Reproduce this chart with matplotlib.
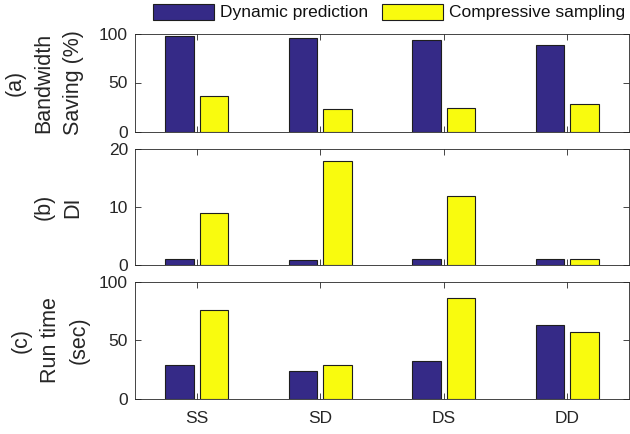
import matplotlib
matplotlib.use("Agg")
import matplotlib.pyplot as plt
import numpy as np

plt.rcParams['font.family'] = ['Liberation Sans', 'DejaVu Sans']

categories = ["SS", "SD", "DS", "DD"]
series_names = ["Dynamic prediction", "Compressive sampling"]

bandwidth_dynamic = [97, 95, 93.5, 88.5]
bandwidth_compressive = [36, 23, 24, 28]

di_dynamic = [1.0, 0.9, 1.05, 1.05]
di_compressive = [9, 18, 12, 1.15]

runtime_dynamic = [29, 24, 32, 63]
runtime_compressive = [76, 29, 86, 57]

panel_labels = ["(a)\nBandwidth\nSaving (%)", "(b)\nDI", "(c)\nRun time\n(sec)"]
panel_ylims = [(0, 100), (0, 20), (0, 100)]
panel_yticks = [[0, 50, 100], [0, 10, 20], [0, 50, 100]]

colors = ["#352a87", "#f9fb0e"]
edge = "#1e1e1e"
axis_color = "#262626"

W, H = 630, 434
fig = plt.figure(figsize=(W / 100, H / 100), dpi=100)

# axes rectangles in pixels: (left, top, right, bottom)
rects = [(135, 33.5, 629, 131.5), (135, 149, 629, 265.3), (135, 281.7, 629, 398.7)]
label_x = [-0.104, -0.104, -0.092]

data = [(bandwidth_dynamic, bandwidth_compressive),
        (di_dynamic, di_compressive),
        (runtime_dynamic, runtime_compressive)]

x = np.arange(1, len(categories) + 1)
offset = 0.141
width = 0.23

for i, (l, t, r, b) in enumerate(rects):
    ax = fig.add_axes([l / W, 1 - b / H, (r - l) / W, (b - t) / H])
    dyn, comp = data[i]
    h1 = ax.bar(x - offset, dyn, width, color=colors[0], edgecolor=edge, linewidth=0.8,
                label=series_names[0], zorder=3)
    h2 = ax.bar(x + offset, comp, width, color=colors[1], edgecolor=edge, linewidth=0.8,
                label=series_names[1], zorder=3)
    ax.set_xlim(0.5, 4.5)
    ax.set_ylim(*panel_ylims[i])
    ax.set_yticks(panel_yticks[i])
    ax.set_xticks(x)
    if i < 2:
        ax.set_xticklabels([])
    else:
        ax.set_xticklabels(categories)
    ax.tick_params(direction="in", top=True, right=True, length=4, width=0.6,
                   colors=axis_color, labelsize=12.5, pad=5)
    ax.tick_params(axis="x", pad=9)
    for s in ax.spines.values():
        s.set_color(axis_color)
        s.set_linewidth(0.6)
    ax.set_ylabel(panel_labels[i], fontsize=15.5, color=axis_color, linespacing=1.5)
    ax.yaxis.set_label_coords(label_x[i], 0.5)
    if i == 0:
        handles = [h1, h2]

leg = fig.legend(handles, series_names, loc="center", bbox_to_anchor=(389 / W, 1 - 12 / H),
                 ncol=2, frameon=False, fontsize=12.5, handlelength=3.5, handleheight=1.05,
                 handletextpad=0.35, columnspacing=0.8, borderpad=0, borderaxespad=0)
for t in leg.get_texts():
    t.set_color("#111111")

fig.savefig("out.png", dpi=100)
